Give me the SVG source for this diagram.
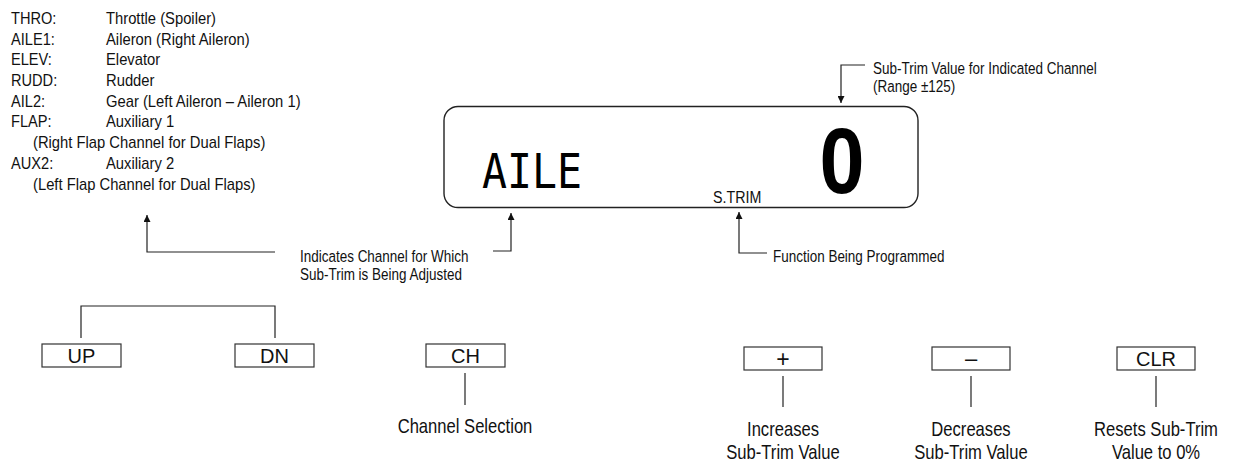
<svg xmlns="http://www.w3.org/2000/svg" width="1239" height="464" viewBox="0 0 1239 464">
<style>
.t{font-family:"Liberation Sans",Arial,sans-serif;font-size:17.4px;fill:#111}
.b{font-family:"Liberation Sans",Arial,sans-serif;font-size:20.5px;fill:#111;text-anchor:middle}
.k{font-family:"Liberation Sans",Arial,sans-serif;font-size:20px;fill:#111;text-anchor:middle}
.ln{fill:none;stroke:#222;stroke-width:1.2}
.box{fill:#fff;stroke:#333;stroke-width:1.2}
.lcd{fill:#fff;stroke:#222;stroke-width:1.4}
</style>
<defs>
<marker id="ah" viewBox="0 0 10 10" refX="10" refY="5" markerWidth="7" markerHeight="7" markerUnits="userSpaceOnUse" orient="auto">
<path d="M0,0 L10,5 L0,10 z" fill="#111"/>
</marker>
</defs>

<g id="channel-list">
<text class="t" transform="matrix(0.84 0 0 1 11 0)" y="24">THRO:</text><text class="t" transform="matrix(0.85 0 0 1 106 0)" y="24">Throttle (Spoiler)</text>
<text class="t" transform="matrix(0.84 0 0 1 11 0)" y="44.7">AILE1:</text><text class="t" transform="matrix(0.85 0 0 1 106 0)" y="44.7">Aileron (Right Aileron)</text>
<text class="t" transform="matrix(0.84 0 0 1 11 0)" y="65.4">ELEV:</text><text class="t" transform="matrix(0.85 0 0 1 106 0)" y="65.4">Elevator</text>
<text class="t" transform="matrix(0.84 0 0 1 11 0)" y="86.1">RUDD:</text><text class="t" transform="matrix(0.85 0 0 1 106 0)" y="86.1">Rudder</text>
<text class="t" transform="matrix(0.84 0 0 1 11 0)" y="106.8">AIL2:</text><text class="t" transform="matrix(0.85 0 0 1 106 0)" y="106.8">Gear (Left Aileron – Aileron 1)</text>
<text class="t" transform="matrix(0.84 0 0 1 11 0)" y="127.5">FLAP:</text><text class="t" transform="matrix(0.85 0 0 1 106 0)" y="127.5">Auxiliary 1</text>
<text class="t" transform="matrix(0.85 0 0 1 33 0)" y="148.2">(Right Flap Channel for Dual Flaps)</text>
<text class="t" transform="matrix(0.84 0 0 1 11 0)" y="168.9">AUX2:</text><text class="t" transform="matrix(0.85 0 0 1 106 0)" y="168.9">Auxiliary 2</text>
<text class="t" transform="matrix(0.85 0 0 1 33 0)" y="189.6">(Left Flap Channel for Dual Flaps)</text>
</g>

<g id="lcd">
<rect class="lcd" x="444" y="106.5" width="474" height="101" rx="14" ry="14"/>
<text x="532" y="188" font-family="DejaVu Sans Mono,monospace" font-size="48" fill="#000" text-anchor="middle" textLength="100" lengthAdjust="spacingAndGlyphs">AILE</text>
<text x="842" y="193" font-family="Liberation Sans,Arial,sans-serif" font-size="92" font-weight="bold" fill="#000" text-anchor="middle" transform="translate(842 0) scale(0.88 1) translate(-842 0)">0</text>
<text class="t" transform="matrix(0.82 0 0 1 713 0)" y="203">S.TRIM</text>
</g>

<g id="label-subtrim-value">
<text class="t" transform="matrix(0.775 0 0 1 873 0)" y="74">Sub-Trim  Value for Indicated Channel</text>
<text class="t" transform="matrix(0.775 0 0 1 873 0)" y="92">(Range ±125)</text>
</g>
<g id="label-indicates">
<text class="t" transform="matrix(0.775 0 0 1 300 0)" y="262">Indicates Channel for Which</text>
<text class="t" transform="matrix(0.775 0 0 1 300 0)" y="280">Sub-Trim is Being Adjusted</text>
</g>
<g id="label-function">
<text class="t" transform="matrix(0.775 0 0 1 773 0)" y="262">Function Being Programmed</text>
</g>

<g id="btn-up"><rect class="box" x="42" y="344" width="79" height="23"/><text class="k" x="81.5" y="363">UP</text></g>
<g id="btn-dn"><rect class="box" x="235" y="344" width="79" height="23"/><text class="k" x="274.5" y="363">DN</text></g>
<g id="btn-ch"><rect class="box" x="426" y="344" width="79" height="23"/><text class="k" x="465.5" y="363">CH</text></g>
<g id="btn-plus"><rect class="box" x="744" y="347" width="78" height="23"/><text class="k" x="783" y="366.5" style="font-size:23px">+</text></g>
<g id="btn-minus"><rect class="box" x="932" y="347" width="78" height="23"/><text class="k" x="971" y="366" style="font-size:22px">–</text></g>
<g id="btn-clr"><rect class="box" x="1117" y="347" width="78" height="23"/><text class="k" x="1156" y="366">CLR</text></g>

<g id="label-ch"><text class="b" transform="matrix(0.81 0 0 1 465 0)" y="433">Channel Selection</text></g>
<g id="label-plus"><text class="b" transform="matrix(0.81 0 0 1 783 0)" y="436">Increases</text><text class="b" transform="matrix(0.81 0 0 1 783 0)" y="459">Sub-Trim Value</text></g>
<g id="label-minus"><text class="b" transform="matrix(0.81 0 0 1 971 0)" y="436">Decreases</text><text class="b" transform="matrix(0.81 0 0 1 971 0)" y="459">Sub-Trim Value</text></g>
<g id="label-clr"><text class="b" transform="matrix(0.81 0 0 1 1156 0)" y="436">Resets Sub-Trim</text><text class="b" transform="matrix(0.81 0 0 1 1156 0)" y="459">Value to 0%</text></g>

<g id="connectors">
<path class="ln" d="M275,252 H147 V215" marker-end="url(#ah)"/>
<path class="ln" d="M493,251 H511 V213" marker-end="url(#ah)"/>
<path class="ln" d="M767,253 H739 V212" marker-end="url(#ah)"/>
<path class="ln" d="M865,65 H841 V103" marker-end="url(#ah)"/>
<path class="ln" d="M81,338 V306 H275 V338"/>
<path class="ln" d="M465,373 V405"/>
<path class="ln" d="M783,376 V407"/>
<path class="ln" d="M971,376 V407"/>
<path class="ln" d="M1156,376 V407"/>
</g>
</svg>
